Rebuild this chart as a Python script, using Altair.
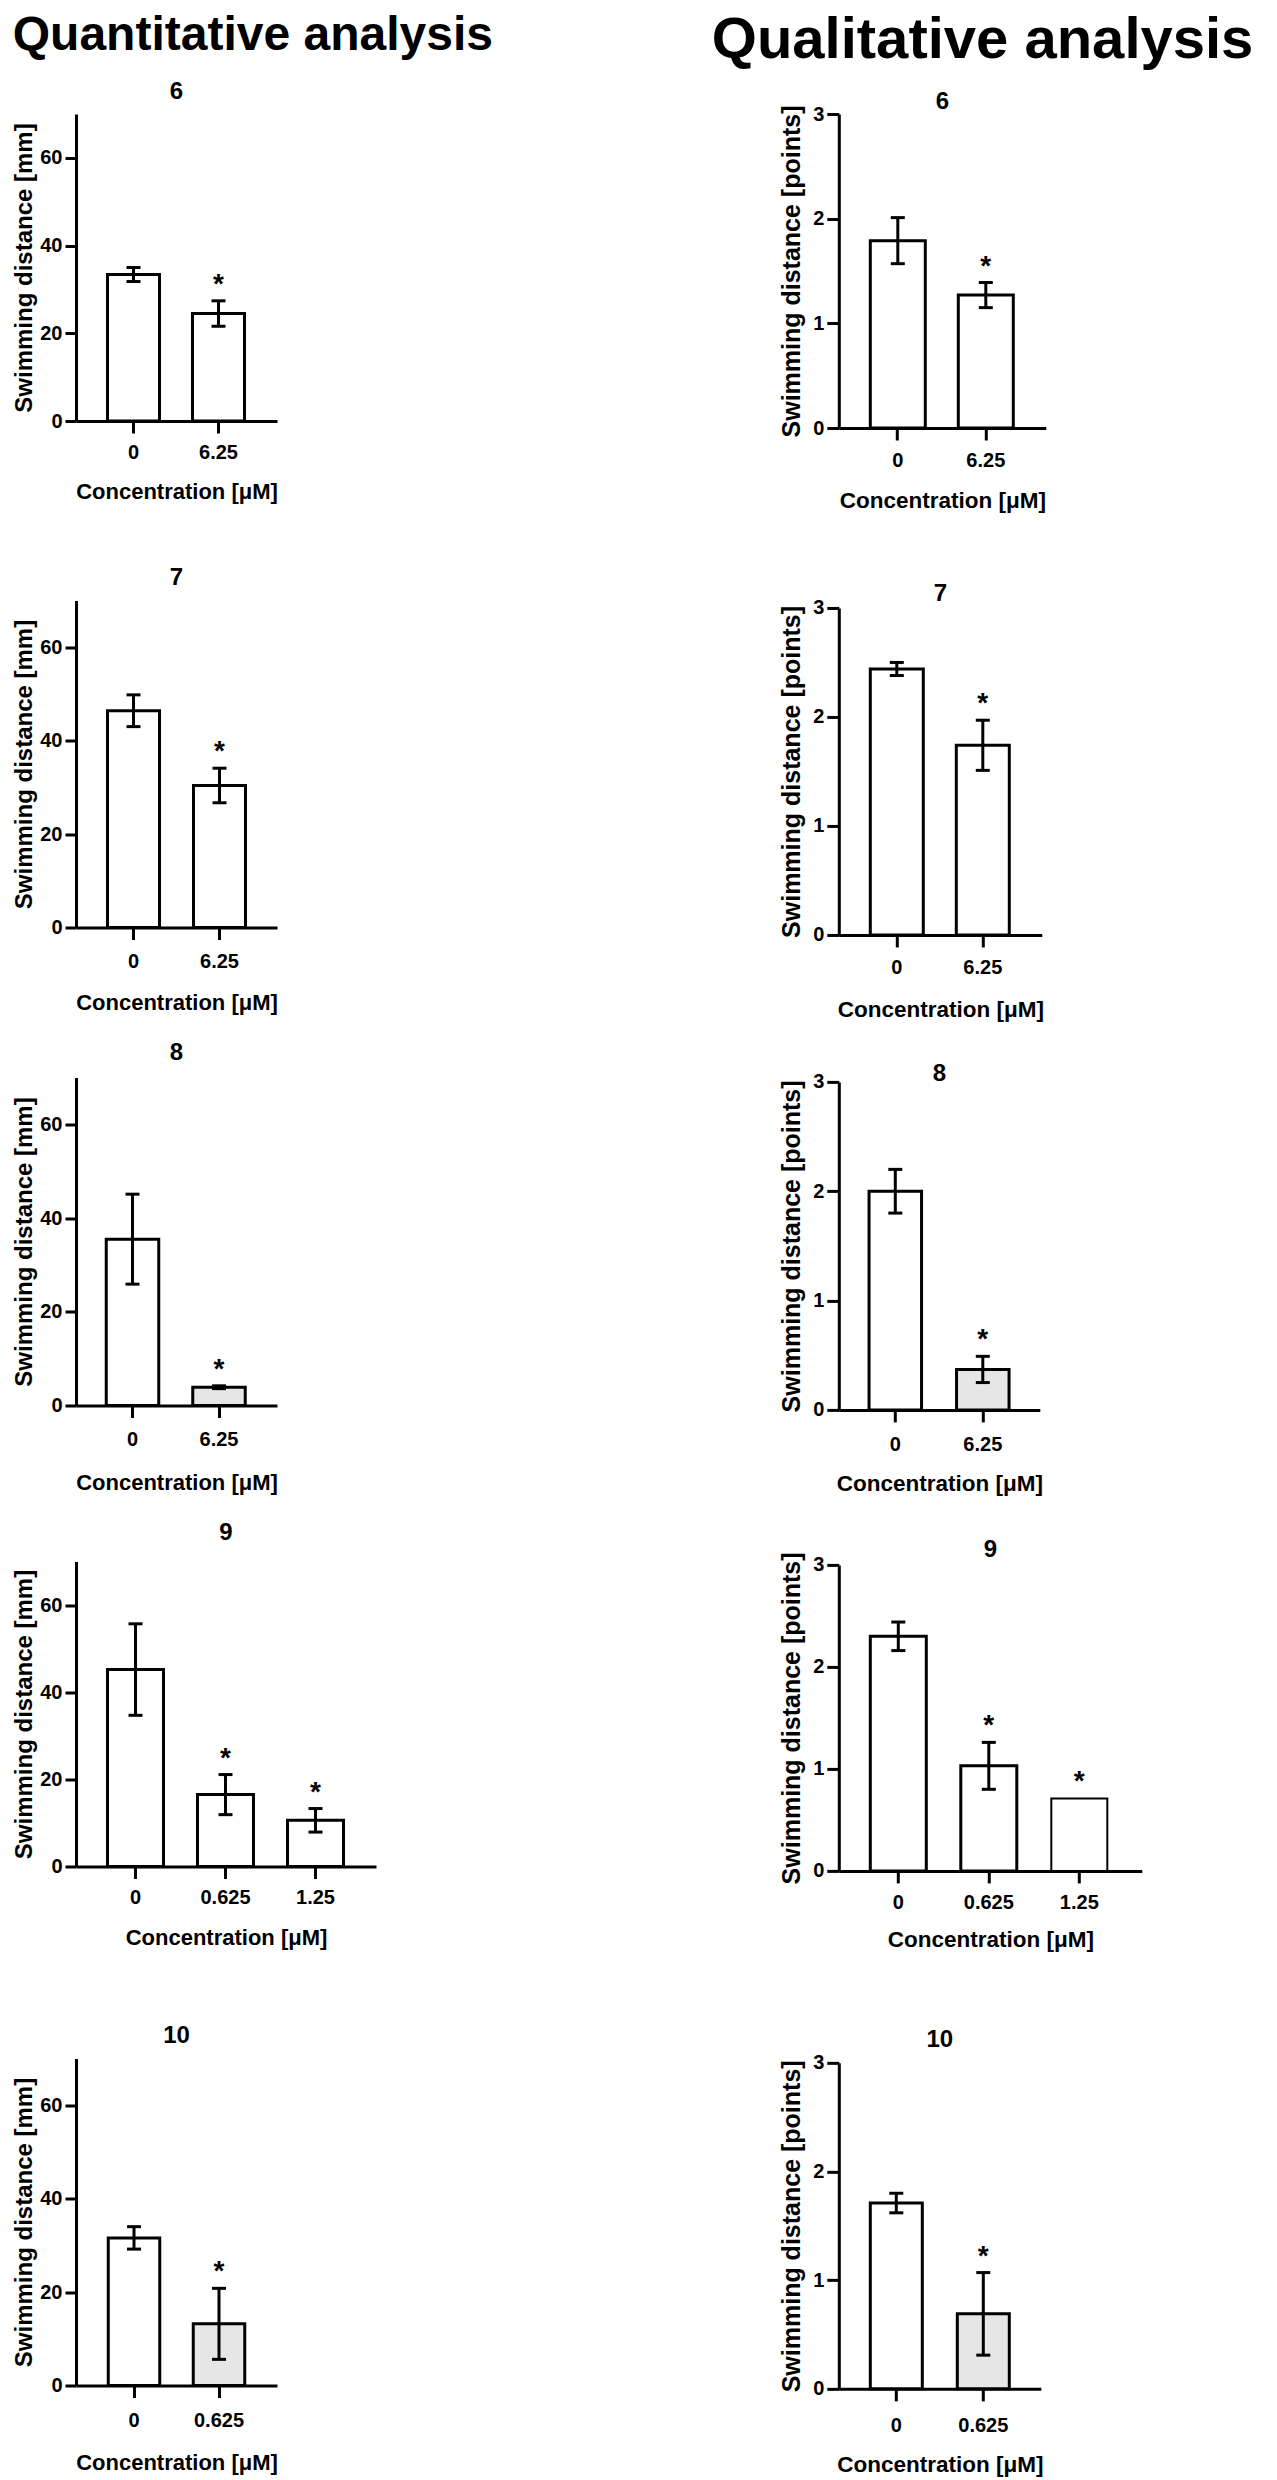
import altair as alt
import pandas as pd

FONT = "Liberation Sans"
DOT_FILL = "#e6e6e6"

# ---------------- data ----------------
panel_titles = ["6", "7", "8", "9", "10"]
concentrations = [["0", "6.25"], ["0", "6.25"], ["0", "6.25"], ["0", "0.625", "1.25"], ["0", "0.625"]]

# quantitative analysis: swimming distance [mm]
quant_mean = [[33.4, 24.5], [46.4, 30.4], [35.5, 3.9], [45.2, 16.5, 10.6], [31.6, 13.2]]
quant_err = [[1.6, 2.9], [3.4, 3.7], [9.6, 0.3], [10.5, 4.6, 2.7], [2.4, 7.6]]

# qualitative analysis: swimming distance [points]
qual_mean = [[1.79, 1.27], [2.44, 1.74], [2.00, 0.37], [2.30, 1.03, 0.71], [1.71, 0.69]]
qual_err = [[0.22, 0.12], [0.06, 0.23], [0.20, 0.12], [0.14, 0.23, 0.0], [0.09, 0.38]]

significant = [[False, True], [False, True], [False, True], [False, True, True], [False, True]]
dotted = [[False, False], [False, False], [False, True], [False, False, False], [False, True]]

# ---------------- layout / style ----------------
# W,H plot size; step, b (bar width) and c1 (first bar centre) in px; ot title offset;
# lp x label padding; tp x title padding; sw bar stroke widths
left_layout = [
    dict(W=201, H=307, step=85, b=52, c1=57.5, ot=10.1, lp=9.2, tp=19.7, sw=[3, 3]),
    dict(W=201, H=327, step=86, b=52, c1=57.5, ot=10.1, lp=12.2, tp=20.7, sw=[3, 3]),
    dict(W=201, H=328, step=86.5, b=52.5, c1=56.5, ot=12.1, lp=12.2, tp=22.7, sw=[3, 3]),
    dict(W=300, H=305, step=90, b=56, c1=59.5, ot=16.1, lp=9.2, tp=19.7, sw=[3, 3, 3]),
    dict(W=201, H=327, step=85, b=51.5, c1=58, ot=10.1, lp=13.2, tp=21.7, sw=[3, 3]),
]
right_layout = [
    dict(W=207, H=314, step=88, b=55, c1=59, ot=-10.4, lp=10.2, tp=18.85, sw=[3, 3]),
    dict(W=203, H=327, step=86, b=53, c1=58, ot=-8.4, lp=10.2, tp=20.85, sw=[3, 3]),
    dict(W=201, H=328, step=87.5, b=52.5, c1=56.5, ot=-14.4, lp=12.2, tp=18.85, sw=[3, 3]),
    dict(W=303, H=306, step=90.5, b=56, c1=59.5, ot=-10.4, lp=9.2, tp=16.85, sw=[3, 3, 2]),
    dict(W=202, H=326, step=87, b=52, c1=57.5, ot=0.6, lp=14.2, tp=18.85, sw=[3, 3]),
]
left_style = dict(ytitle="Swimming distance [mm]", ydom=[0, 70], yticks=[0, 20, 40, 60],
                  ytick=11, ylp=3, ytp=3, yfs=24, xfs=22)
right_style = dict(ytitle="Swimming distance [points]", ydom=[0, 3], yticks=[0, 1, 2, 3],
                   ytick=12, ylp=3, ytp=8, yfs=25, xfs=22.5)
left_gaps = [62.5, 26.5, 26.5, 74.5]
right_gaps = [69.95, 40.9, 41.9, 75.85]


def band_params(W, n, step, b, c1):
    pi = 1 - b / step
    po = (W / step - n + pi) / 2
    al = (c1 - b / 2) / (W - step * (n - pi))
    return pi, po, al


def panel(title, conc, mean, err, sig, dot, L, S):
    n = len(conc)
    df = pd.DataFrame({
        "conc": conc, "mean": mean, "err": err, "sig": sig,
        "kind": ["dotted" if d else "plain" for d in dot], "sw": L["sw"],
    })
    pi, po, al = band_params(L["W"], n, L["step"], L["b"], L["c1"])
    xenc = alt.X("conc:N", sort=conc,
                 scale=alt.Scale(domain=conc, paddingInner=pi, paddingOuter=po, align=al),
                 axis=alt.Axis(title="Concentration [μM]", labelAngle=0, tickSize=12,
                               labelPadding=L["lp"], titlePadding=L["tp"],
                               titleFontSize=S["xfs"]))
    yscale = alt.Scale(domain=S["ydom"], nice=False, zero=True)
    yaxis = alt.Axis(title=S["ytitle"], values=S["yticks"], tickSize=S["ytick"],
                     labelPadding=S["ylp"], titlePadding=S["ytp"], titleFontSize=S["yfs"])

    base = alt.Chart(df).transform_calculate(
        lo="datum.mean - datum.err", hi="datum.mean + datum.err")

    bars = base.mark_bar(stroke="black").encode(
        x=xenc,
        y=alt.Y("mean:Q", scale=yscale, axis=yaxis),
        fill=alt.Fill("kind:N", scale=alt.Scale(domain=["plain", "dotted"],
                                                range=["white", DOT_FILL]), legend=None),
        strokeWidth=alt.StrokeWidth("sw:Q", scale=None, legend=None),
    )
    eb = base.transform_filter("datum.err > 0")
    rule = eb.mark_rule(color="black", strokeWidth=3).encode(
        x=xenc, y=alt.Y("lo:Q", scale=yscale, axis=yaxis), y2="hi:Q")
    cap_lo = eb.mark_tick(color="black", size=14, thickness=3, opacity=1).encode(
        x=xenc, y=alt.Y("lo:Q", scale=yscale, axis=yaxis))
    cap_hi = eb.mark_tick(color="black", size=14, thickness=3, opacity=1).encode(
        x=xenc, y=alt.Y("hi:Q", scale=yscale, axis=yaxis))
    stars = base.transform_filter("datum.sig").mark_text(
        text="*", fontSize=28, fontWeight="bold", font=FONT, color="black",
        baseline="alphabetic", dy=-8).encode(
        x=xenc, y=alt.Y("hi:Q", scale=yscale, axis=yaxis))

    return alt.layer(bars, rule, cap_lo, cap_hi, stars).properties(
        width=L["W"], height=L["H"],
        title=alt.TitleParams(text=title, fontSize=24, offset=L["ot"], frame="group",
                              anchor="middle"))


def column(means, errs, layouts, style, gaps, ctitle):
    ps = [panel(panel_titles[i], concentrations[i], means[i], errs[i], significant[i],
                dotted[i], layouts[i], style) for i in range(5)]
    col = ps[0]
    for i in range(1, 4):
        col = alt.vconcat(col, ps[i], spacing=gaps[i - 1])
    return alt.vconcat(col, ps[4], spacing=gaps[3], title=ctitle)


left_col = column(quant_mean, quant_err, left_layout, left_style, left_gaps,
                  alt.TitleParams(text="Quantitative analysis", fontSize=48, anchor="start",
                                  offset=20.4))
right_col = column(qual_mean, qual_err, right_layout, right_style, right_gaps,
                   alt.TitleParams(text="Qualitative analysis", fontSize=58, anchor="start",
                                   offset=20.4, dx=-67.9))

chart = alt.hconcat(left_col, right_col, spacing=217.8).properties(
    padding={"left": 4, "top": 3, "right": 0, "bottom": 0}
).configure_view(
    strokeWidth=0
).configure_axis(
    grid=False, domainColor="black", tickColor="black", labelColor="black", titleColor="black",
    labelFont=FONT, titleFont=FONT, labelFontWeight="bold", titleFontWeight="bold",
    domainWidth=3, tickWidth=3, labelFontSize=20, titleLimit=1000, labelLimit=1000
).configure_title(font=FONT, fontWeight="bold", color="black")

chart.save("out.html", embed_options={"renderer": "svg", "actions": False})
